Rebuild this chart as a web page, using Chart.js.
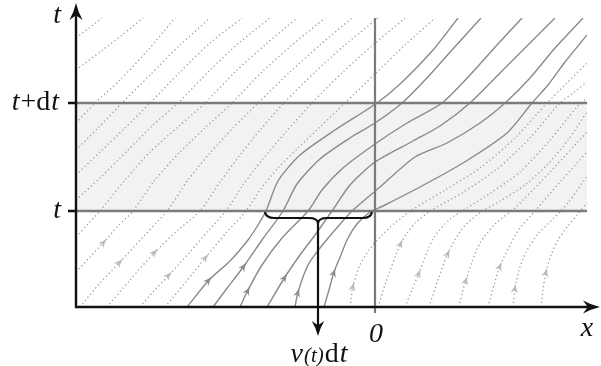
<!DOCTYPE html>
<html>
<head>
<meta charset="utf-8">
<script src="https://cdn.jsdelivr.net/npm/chart.js@4.4.1/dist/chart.umd.min.js"></script>
<style>
  html, body { margin: 0; padding: 0; background: #fff; }
</style>
</head>
<body>
<canvas id="chart" width="601" height="366"></canvas>
<script>
// x is measured from the 0 mark, t upward from the x axis
const xRange = [-299, 212];
const tRange = [0, 289];
const tLevels = [96, 204];            // t, t+dt
const zeroLine = [[0, -6], [0, 289]];
const braceX = [-110, -57, -3];       // left end, tip, right end

// solid streamlines (those that cross the band at x in v(t)dt)
const solid0 = [[-188,0],[-166,27],[-145,46],[-127,67],[-117,82],[-109,96],[-97,126],[-75,152],[-40,177],[2,204],[25,223],[58,257],[83,289]];
const solid1 = [[-162,0],[-147,20],[-131,41],[-113,67],[-92,96],[-78,123],[-55,148],[-25,169],[0,184],[27,204],[50,227],[77,257],[106,289]];
const solid2 = [[-135,0],[-127,17],[-113,42],[-93,69],[-67,96],[-53,117],[-32,139],[0,163],[32,184],[67,204],[95,232],[122,262],[147,289]];
const solid3 = [[-108,0],[-90,30],[-75,52],[-60,72],[-43,96],[-25,122],[0,145],[38,166],[65,181],[95,204],[125,234],[155,264],[180,289]];
const solid4 = [[-80,0],[-77,15],[-67,42],[-55,59],[-40,77],[-23,96],[5,120],[40,150],[72,164],[105,184],[130,204],[155,229],[180,259],[208,289]];
const solid5 = [[-51,0],[-46,17],[-41,35],[-34,52],[-28,67],[-18,83],[-5,95],[8,101],[45,120],[88,144],[132,174],[157,204],[173,222],[190,245],[212,272]];
const solidLines = [solid0, solid1, solid2, solid3, solid4, solid5];
const solidArrows = [1, 2, 1, 1, 1, 2];

// dotted streamlines, left part
const left1 = [[-299,269],[-286,279],[-273,289]];
const left2 = [[-299,237],[-275,255],[-253,272],[-232,289]];
const left3 = [[-299,184],[-280,204],[-255,227],[-227,257],[-200,289]];
const left4 = [[-299,157],[-277,179],[-253,204],[-225,232],[-195,262],[-165,289]];
const left5 = [[-299,132],[-275,155],[-250,179],[-225,204],[-195,235],[-165,264],[-133,289]];
const left6 = [[-299,107],[-275,129],[-247,157],[-223,181],[-197,204],[-165,237],[-135,265],[-105,289]];
const left7 = [[-299,70],[-287,83],[-275,96],[-250,127],[-225,155],[-197,180],[-170,204],[-140,235],[-110,262],[-78,289]];
const left8 = [[-299,35],[-285,50],[-271,65],[-257,81],[-242,96],[-220,127],[-195,155],[-170,179],[-143,204],[-113,235],[-83,262],[-50,289]];
const left9 = [[-295,0],[-275,24],[-255,45],[-232,70],[-208,96],[-187,127],[-165,154],[-142,179],[-117,204],[-85,235],[-55,262],[-23,289]];
const left10 = [[-268,0],[-245,27],[-220,55],[-197,77],[-175,96],[-155,125],[-135,152],[-115,177],[-91,204],[-60,235],[-30,262],[3,289]];
const left11 = [[-235,0],[-222,15],[-206,32],[-185,55],[-167,76],[-149,96],[-132,122],[-113,147],[-90,174],[-63,204],[-32,235],[-2,262],[30,289]];
const left12 = [[-210,0],[-190,24],[-169,50],[-149,74],[-129,96],[-115,117],[-97,139],[-77,159],[-55,180],[-30,204],[0,233],[30,262],[60,289]];
const leftLines = [left1, left2, left3, left4, left5, left6, left7, left8, left9, left10, left11, left12];
const leftArrows = [null, null, null, null, null, null, null, 2, 2, 2, 2, 2];

// dotted streamlines, right part
const right1 = [[-25,0],[-22,21],[-15,42],[-6,57],[5,70],[20,84],[37,97],[70,117],[105,139],[140,169],[172,204],[192,224],[212,244]];
const right2 = [[3,0],[11,25],[26,64],[40,84],[57,97],[87,114],[122,138],[155,169],[185,204],[198,214],[212,225]];
const right3 = [[30,0],[37,17],[44,34],[58,68],[75,88],[92,99],[117,115],[145,135],[175,167],[202,200],[212,209]];
const right4 = [[54,0],[63,27],[73,54],[87,78],[103,93],[125,106],[150,122],[172,142],[193,167],[212,195]];
const right5 = [[84,0],[87,14],[91,27],[97,45],[105,64],[120,83],[140,99],[175,135],[212,175]];
const right6 = [[113,0],[119,22],[125,41],[135,62],[145,79],[160,96],[185,125],[212,155]];
const right7 = [[138,0],[140,19],[144,37],[151,55],[163,73],[178,88],[193,104],[212,131]];
const right8 = [[166,0],[168,17],[171,35],[176,52],[183,67],[193,81],[203,93],[212,104]];
const rightLines = [right1, right2, right3, right4, right5, right6, right7, right8];
const rightArrows = [1, 2, 2, 2, 2, 2, 1, 2];

const colors = {
    solid: '#8a8a8a',
    dotted: '#9e9e9e',
    arrowLight: '#bababa',
    rule: '#7b7b7b',
    band: '#f2f2f2',
    ink: '#111111'
};

const toPts = arr => arr.map(p => ({ x: p[0], y: p[1] }));

function curve(points, dotted, arrowAt) {
    return {
        data: toPts(points),
        showLine: true,
        borderColor: dotted ? colors.dotted : colors.solid,
        borderWidth: dotted ? 1.3 : 1.4,
        borderDash: dotted ? [1.3, 2.7] : [],
        borderCapStyle: 'butt',
        pointRadius: 0,
        tension: 0.25,
        fill: false,
        order: 2,
        arrowAt: arrowAt,
        arrowColor: dotted ? colors.arrowLight : colors.solid
    };
}

const datasets = [
    // t+dt rule, filled down to the t rule
    {
        data: toPts([[xRange[0], tLevels[1]], [xRange[1], tLevels[1]]]),
        showLine: true, borderColor: colors.rule, borderWidth: 2.6, pointRadius: 0,
        fill: '+1', backgroundColor: colors.band, order: 0
    },
    {
        data: toPts([[xRange[0], tLevels[0]], [xRange[1], tLevels[0]]]),
        showLine: true, borderColor: colors.rule, borderWidth: 2.6, pointRadius: 0,
        fill: false, order: 0
    },
    {
        data: toPts(zeroLine),
        showLine: true, borderColor: colors.rule, borderWidth: 2.2, pointRadius: 0,
        fill: false, order: 0, clip: false
    }
];
leftLines.forEach((l, i) => datasets.push(curve(l, true, leftArrows[i])));
rightLines.forEach((l, i) => datasets.push(curve(l, true, rightArrows[i])));
solidLines.forEach((l, i) => datasets.push(curve(l, false, solidArrows[i])));

function head(ctx, tx, ty, ang, len, halfW, color) {
    ctx.save();
    ctx.translate(tx, ty);
    ctx.rotate(ang);
    ctx.beginPath();
    ctx.moveTo(0, 0);
    ctx.quadraticCurveTo(-len * 0.55, halfW * 0.35, -len, halfW);
    ctx.lineTo(-len * 0.72, 0);
    ctx.lineTo(-len, -halfW);
    ctx.quadraticCurveTo(-len * 0.55, -halfW * 0.35, 0, 0);
    ctx.closePath();
    ctx.fillStyle = color;
    ctx.fill();
    ctx.restore();
}

// small arrowheads sitting on the streamlines
const curveArrows = {
    id: 'curveArrows',
    afterDatasetsDraw(chart) {
        const ctx = chart.ctx;
        chart.data.datasets.forEach((ds, i) => {
            if (ds.arrowAt == null) return;
            const pts = chart.getDatasetMeta(i).data;
            const k = ds.arrowAt;
            const a = pts[k - 1], b = pts[k], c = pts[k + 1];
            const ang = Math.atan2(c.y - a.y, c.x - a.x);
            head(ctx, b.x + Math.cos(ang) * 4, b.y + Math.sin(ang) * 4, ang, 9, 3.6, ds.arrowColor);
        });
    }
};

function rich(ctx, parts, x, y, align) {
    let w = 0;
    parts.forEach(p => { ctx.font = p[1]; w += ctx.measureText(p[0]).width + (p[2] || 0); });
    let cx = align === 'right' ? x - w : align === 'center' ? x - w / 2 : x;
    parts.forEach(p => {
        ctx.font = p[1];
        ctx.fillText(p[0], cx, y);
        cx += ctx.measureText(p[0]).width + (p[2] || 0);
    });
}

// axes, brace and labels
const overlay = {
    id: 'overlay',
    afterDraw(chart) {
        const ctx = chart.ctx;
        const xs = chart.scales.x, ys = chart.scales.y;
        const left = chart.chartArea.left;
        const y0 = ys.getPixelForValue(0);
        const yT = ys.getPixelForValue(tLevels[0]);
        const yT2 = ys.getPixelForValue(tLevels[1]);
        const xZero = xs.getPixelForValue(0);
        ctx.save();
        ctx.strokeStyle = colors.ink;
        ctx.fillStyle = colors.ink;
        ctx.lineCap = 'butt';

        // axes
        ctx.lineWidth = 2.4;
        ctx.beginPath();
        ctx.moveTo(left, y0 + 1.2);
        ctx.lineTo(left, 14);
        ctx.moveTo(left - 1.2, y0);
        ctx.lineTo(590, y0);
        ctx.stroke();
        head(ctx, left, 3, -Math.PI / 2, 17, 6.5, colors.ink);
        head(ctx, 600, y0, 0, 17, 6.5, colors.ink);

        // ticks at t and t+dt
        ctx.lineWidth = 2.6;
        ctx.beginPath();
        ctx.moveTo(68, yT); ctx.lineTo(left + 1, yT);
        ctx.moveTo(68, yT2); ctx.lineTo(left + 1, yT2);
        ctx.stroke();

        // brace under the t rule
        const bl = xs.getPixelForValue(braceX[0]);
        const bm = xs.getPixelForValue(braceX[1]);
        const br = xs.getPixelForValue(braceX[2]);
        const by = yT + 7;
        ctx.lineWidth = 2.2;
        ctx.beginPath();
        ctx.moveTo(bl, yT + 1);
        ctx.quadraticCurveTo(bl + 1, by, bl + 9, by);
        ctx.lineTo(bm - 9, by);
        ctx.quadraticCurveTo(bm - 1, by, bm, by + 5);
        ctx.quadraticCurveTo(bm + 1, by, bm + 9, by);
        ctx.lineTo(br - 9, by);
        ctx.quadraticCurveTo(br - 1, by, br, yT + 1);
        ctx.stroke();
        ctx.beginPath();
        ctx.moveTo(bm, by + 4);
        ctx.lineTo(bm, 326);
        ctx.stroke();
        head(ctx, bm, 336, Math.PI / 2, 15, 6.2, colors.ink);

        // labels
        const it = 'italic 28px "Liberation Serif", serif';
        const up = '28px "Liberation Serif", serif';
        const sm = 'italic 21px "Liberation Serif", serif';
        ctx.textBaseline = 'alphabetic';
        rich(ctx, [['t', it]], 61, 23, 'right');
        rich(ctx, [['t', it, 1], ['+', up], ['d', up, 1], ['t', it]], 59, yT2 + 7, 'right');
        rich(ctx, [['t', it]], 61, yT + 7, 'right');
        rich(ctx, [['0', it]], xZero + 1, 342, 'center');
        rich(ctx, [['x', it]], 587, 336, 'center');
        rich(ctx, [['v', it, 1], ['(t)', sm, 1], ['d', up, 1], ['t', it]], bm + 1, 362, 'center');
        ctx.restore();
    }
};

new Chart(document.getElementById('chart'), {
    type: 'scatter',
    data: { datasets: datasets },
    options: {
        responsive: false,
        animation: false,
        events: [],
        layout: { padding: { left: 76, right: 14, top: 18, bottom: 59 } },
        scales: {
            x: { type: 'linear', min: xRange[0], max: xRange[1], display: false },
            y: { type: 'linear', min: tRange[0], max: tRange[1], display: false }
        },
        plugins: {
            legend: { display: false },
            tooltip: { enabled: false },
            filler: { drawTime: 'beforeDatasetsDraw' }
        }
    },
    plugins: [curveArrows, overlay]
});
</script>
</body>
</html>
